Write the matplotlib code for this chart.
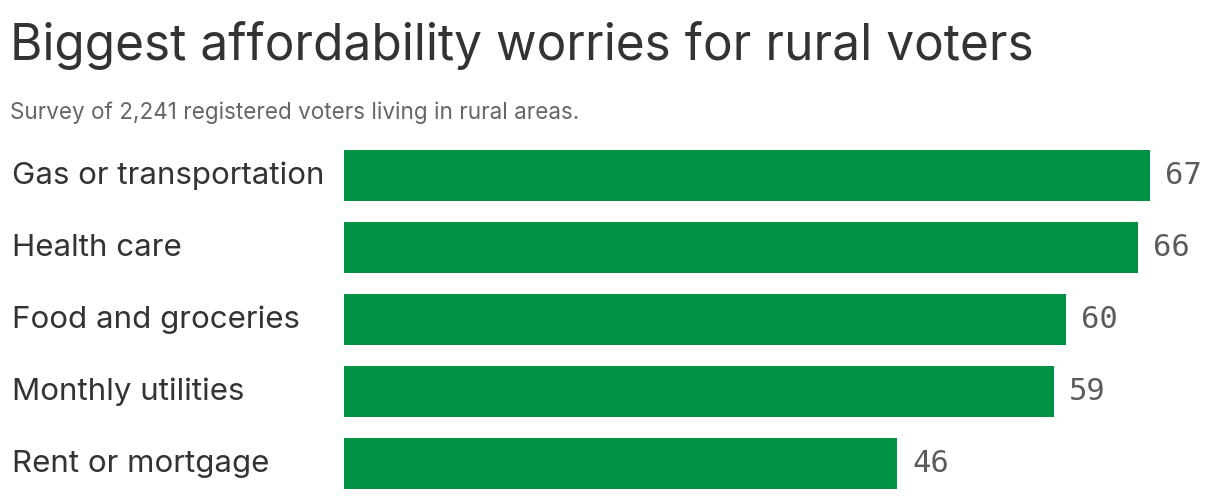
import matplotlib.pyplot as plt
import matplotlib.transforms as mtransforms

plt.rcParams['font.family'] = ['Inter', 'DejaVu Sans']

# Data
categories = ['Gas or transportation', 'Health care', 'Food and groceries',
              'Monthly utilities', 'Rent or mortgage']
values = [67, 66, 60, 59, 46]

bar_color = '#009245'

fig = plt.figure(figsize=(12.2, 5), dpi=100)
ax = fig.add_axes([344 / 1220, 0.5 / 500, 876 / 1220, 360 / 500])

y = list(range(len(categories)))
ax.barh(y, values, height=51 / 72, color=bar_color, zorder=2)
ax.set_xlim(0, 876 / 12.03)
ax.set_ylim(4.5, -0.5)
ax.axis('off')

# value labels
for yi, v in zip(y, values):
    ax.annotate(str(v), xy=(v, yi), xytext=(11, 0), textcoords='offset points',
                ha='left', va='center', fontsize=22, color='#5a5a5a',
                family='DejaVu Sans Mono')

# category labels, left aligned against the figure edge
trans = mtransforms.blended_transform_factory(fig.transFigure, ax.transData)
for yi, c in zip(y, categories):
    ax.text(12 / 1220, yi, c, transform=trans, ha='left', va='center',
            fontsize=22.5, color='#333333')

# title + subtitle
fig.text(10 / 1220, 1 - 45 / 500, 'Biggest affordability worries for rural voters',
         ha='left', va='center', fontsize=35.7, color='#333333')
fig.text(10 / 1220, 1 - 113 / 500, 'Survey of 2,241 registered voters living in rural areas.',
         ha='left', va='center', fontsize=16.2, color='#666666')

fig.savefig('out.png', dpi=100)
